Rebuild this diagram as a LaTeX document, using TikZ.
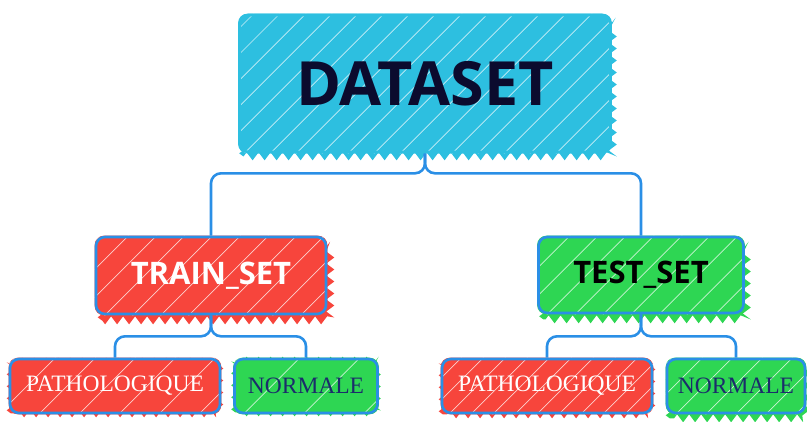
\documentclass[tikz,border=0pt]{standalone}
\usepackage{fontspec}
\setmainfont{Liberation Serif}
\newfontfamily\headfont{Open Sans}
\usetikzlibrary{backgrounds,calc,decorations.pathmorphing}
\definecolor{cy}{HTML}{2DBFE0}
\definecolor{rd}{HTML}{F7453C}
\definecolor{gr}{HTML}{2ED653}
\definecolor{ln}{HTML}{2A8FE6}
\definecolor{navy}{HTML}{0B0B2E}
\definecolor{nv2}{HTML}{1B2C6B}
\tikzset{
  box/.style={draw=ln, line width=2.6pt, rounded corners=9pt, inner sep=0pt},
  conn/.style={draw=ln, line width=2.6pt, rounded corners=10pt},
  headtxt/.style={font=\headfont\bfseries\fontsize{31}{33}\selectfont},
  leaftxt/.style={font=\fontsize{23.5}{25}\selectfont},
}
\newcommand{\sketchfill}[5]{% node, color, spacing, dx, dy
  \fill[#2, decorate, decoration={zigzag, segment length=12pt, amplitude=4pt}]
    ($(#1.south west)+(2+#4,-2+#5)$) rectangle ($(#1.north east)+(-2+#4,3+#5)$);
  \fill[#2, rounded corners=9pt] (#1.south west) rectangle (#1.north east);
  \begin{scope}
    \clip[rounded corners=9pt] (#1.south west) rectangle (#1.north east);
    \foreach \k [evaluate=\k as \i using {-420+\k*#3}] in {0,...,40}
      \draw[white, line width=0.7pt, opacity=0.75] ($(#1.south west)+(\i,10)$) -- ++(240,-240);
  \end{scope}
}
\begin{document}
\begin{tikzpicture}[x=1pt,y=-1pt]
\useasboundingbox (0,0) rectangle (807,421);
\node[box, draw=cy, minimum width=371pt, minimum height=137pt,
      font=\headfont\bfseries\fontsize{61}{63}\selectfont, text=navy] (data) at (425,83.5) {DATASET};
\node[box, minimum width=230pt, minimum height=77pt, headtxt, text=white] (train) at (211,275.5) {TRAIN\_SET};
\node[box, minimum width=205pt, minimum height=76pt, headtxt, text=black] (test) at (641,275) {TEST\_SET};
\node[box, minimum width=210pt, minimum height=54pt, leaftxt, text=white] (p1) at (115,386) {PATHOLOGIQUE};
\node[box, minimum width=143pt, minimum height=54pt, leaftxt, text=nv2] (n1) at (306,386) {NORMALE};
\node[box, minimum width=210pt, minimum height=54pt, leaftxt, text=white] (p2) at (547,386) {PATHOLOGIQUE};
\node[box, minimum width=138pt, minimum height=54pt, leaftxt, text=nv2] (n2) at (736,386) {NORMALE};
\begin{scope}[on background layer]
  \sketchfill{data}{cy}{26}{3}{5}
  \sketchfill{train}{rd}{28}{5}{7}
  \sketchfill{test}{gr}{28}{4}{7}
  \sketchfill{p1}{rd}{40}{0}{1}
  \sketchfill{n1}{gr}{60}{0}{0}
  \sketchfill{p2}{rd}{22}{0}{2}
  \sketchfill{n2}{gr}{30}{2}{6}
  \draw[conn] (data.south) -- ++(0,20) -| (train.north);
  \draw[conn] (data.south) -- ++(0,20) -| (test.north);
  \draw[conn] (train.south) -- ++(0,21) -| (p1.north);
  \draw[conn] (train.south) -- ++(0,21) -| (n1.north);
  \draw[conn] (test.south) -- ++(0,22) -| (p2.north);
  \draw[conn] (test.south) -- ++(0,22) -| (n2.north);
\end{scope}
\end{tikzpicture}
\end{document}
